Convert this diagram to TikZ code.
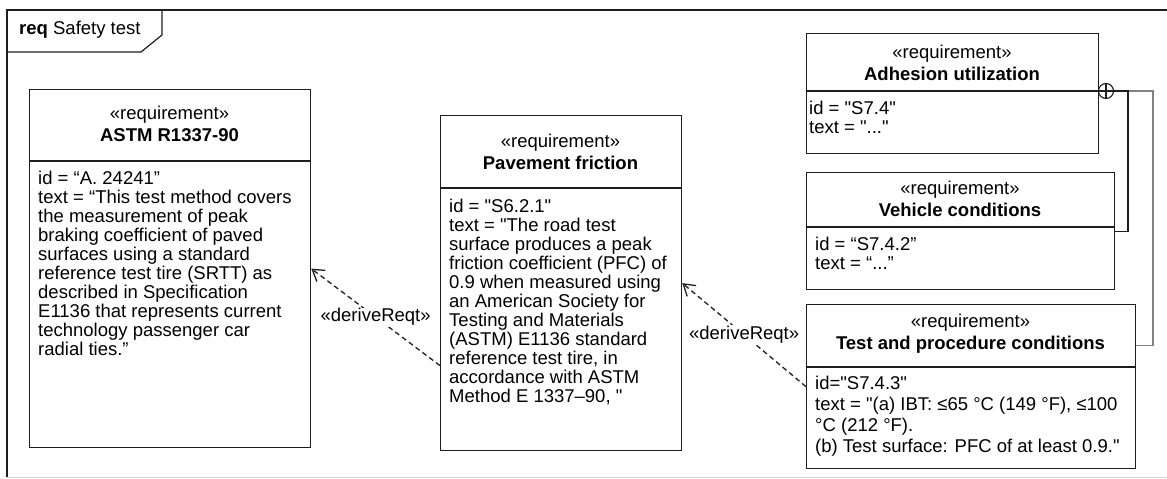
\documentclass[tikz,border=0pt]{standalone}
\usepackage{fontspec}
\newfontfamily\reqfont{Liberation Sans}
\usetikzlibrary{arrows.meta, positioning, calc}
\definecolor{reqline}{RGB}{30, 30, 30}
\definecolor{reqgray}{RGB}{130, 130, 130}
\definecolor{framegray}{RGB}{215, 215, 215}

\tikzset{
  reqbox/.style={draw=reqline, line width=1.3pt, anchor=north west, inner sep=0pt},
  reqhead/.style={align=center, font=\reqfont\fontsize{18.5}{22}\selectfont},
  reqbody/.style={align=left, anchor=north west, inner sep=0pt, font=\reqfont\fontsize{18.5}{19}\selectfont},
  derive/.style={draw=reqline, line width=1.3pt, dash pattern=on 5pt off 3.5pt,
    -{Straight Barb[length=11pt, width=14pt]}},
  dlabel/.style={fill=white, inner sep=1pt, font=\reqfont\fontsize{18.5}{19}\selectfont},
}

\begin{document}
\begin{tikzpicture}[x=1pt, y=-1pt]
  \useasboundingbox (0,0) rectangle (1167,479);

  % --- diagram frame and tab ---
  \draw[framegray] (7,477) -- (1167,477);
  \draw[reqline, line width=1.3pt] (1167,10) -- (7,10) -- (7,477);
  \draw[reqline, line width=1.2pt] (7,52) -- (141,52) -- (162,35) -- (162,10);
  \node[anchor=west, inner sep=0pt, font=\reqfont\fontsize{18.5}{19}\selectfont] (tab) at (19,30)
    {\textbf{req} Safety test};

  % --- ASTM R1337-90 ---
  \node[reqbox, minimum width=281pt, minimum height=358pt] (astm) at (29,89) {};
  \draw[reqline, line width=1.3pt] (29,161) -- (310,161);
  \node[reqhead] (astmH) at (169.5,124) {«requirement»\\\textbf{ASTM R1337-90}};
  \node[reqbody] (astmB) at (38,171)
    {id = “A. 24241”\\
     text = “This test method covers\\
     the measurement of peak\\
     braking coefficient of paved\\
     surfaces using a standard\\
     reference test tire (SRTT) as\\
     described in Specification\\
     E1136 that represents current\\
     technology passenger car\\
     radial ties.”};

  % --- Pavement friction ---
  \node[reqbox, minimum width=241pt, minimum height=335pt] (pave) at (440,115) {};
  \draw[reqline, line width=1.3pt] (440,188) -- (681,188);
  \node[reqhead] (paveH) at (560.5,151.5) {«requirement»\\\textbf{Pavement friction}};
  \node[reqbody] (paveB) at (449,199)
    {id = "S6.2.1"\\
     text = "The road test\\
     surface produces a peak\\
     friction coefficient (PFC) of\\
     0.9 when measured using\\
     an American Society for\\
     Testing and Materials\\
     (ASTM) E1136 standard\\
     reference test tire, in\\
     accordance with ASTM\\
     Method E 1337–90, "};

  % --- Adhesion utilization ---
  \node[reqbox, minimum width=292pt, minimum height=120pt] (adh) at (806,33) {};
  \draw[reqline, line width=1.3pt] (806,91) -- (1098,91);
  \node[reqhead] (adhH) at (952,63) {«requirement»\\\textbf{Adhesion utilization}};
  \node[reqbody] (adhB) at (809,101)
    {id = "S7.4"\\
     text = "..."};

  % --- Vehicle conditions ---
  \node[reqbox, minimum width=308pt, minimum height=117pt] (veh) at (806,172) {};
  \draw[reqline, line width=1.3pt] (806,227) -- (1114,227);
  \node[reqhead] (vehH) at (960,198.5) {«requirement»\\\textbf{Vehicle conditions}};
  \node[reqbody] (vehB) at (815,237)
    {id = “S7.4.2”\\
     text = “...”};

  % --- Test and procedure conditions ---
  \node[reqbox, minimum width=329pt, minimum height=164pt] (test) at (806,304) {};
  \draw[reqline, line width=1.3pt] (806,367) -- (1135,367);
  \node[reqhead] (testH) at (970.5,334) {«requirement»\\\textbf{Test and procedure conditions}};
  \node[reqbody, font=\reqfont\fontsize{18.5}{21}\selectfont] (testB) at (815,376)
    {id="S7.4.3"\\
     text = "(a) IBT: ≤65 °C (149 °F), ≤100\\
     °C (212 °F).\\
     (b) Test surface: PFC of at least 0.9."};

  % --- containment ---
  \node[draw=reqline, circle, line width=1.1pt, minimum size=15pt, inner sep=0pt] (plus) at (1106,91) {};
  \draw[reqline, line width=1.1pt] (plus.north) -- (plus.south) (plus.west) -- (plus.east);
  \coordinate (jA) at (1128,91);
  \coordinate (jB) at (1153,91);
  \draw[reqgray, line width=1.5pt] ([yshift=41pt]test.east) -| (jB) -- (jA);
  \draw[reqline, line width=1.2pt] (veh.east) -| (jA) -- (plus.east);

  % --- deriveReqt ---
  \draw[derive] ([yshift=-82.5pt]pave.west) -- node[dlabel] (d1) {«deriveReqt»} (astm.east);
  \draw[derive] (test.west) -- node[dlabel] (d2) {«deriveReqt»} (pave.east);

\end{tikzpicture}
\end{document}
